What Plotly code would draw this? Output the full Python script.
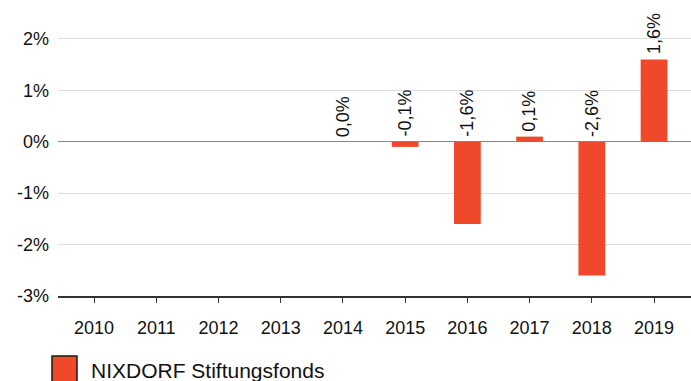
import plotly.graph_objects as go

# Annual performance per calendar year (percent)
years = ["2010", "2011", "2012", "2013", "2014", "2015", "2016", "2017", "2018", "2019"]
returns = [None, None, None, None, 0.0, -0.1, -1.6, 0.1, -2.6, 1.6]
series_name = "NIXDORF Stiftungsfonds"

y_ticks = [2, 1, 0, -1, -2, -3]
y_tick_text = ["2%", "1%", "0%", "-1%", "-2%", "-3%"]

BAR_COLOR = "#F0482A"
FONT = "Liberation Sans, Arial, sans-serif"

fig = go.Figure()
fig.add_trace(go.Bar(
    x=years,
    y=returns,
    marker=dict(color=BAR_COLOR, line=dict(width=0)),
    width=0.43,
    showlegend=False,
    hoverinfo="x+y",
))

# Rotated value labels, sitting above the bar top (or above zero for losses).
# On a category axis, annotation x is given as the category index.
for idx, v in enumerate(returns):
    if v is None:
        continue
    label = f"{v:.1f}".replace(".", ",") + "%"
    fig.add_annotation(
        x=idx, y=max(v, 0.0), xref="x", yref="y",
        text=label, textangle=-90, showarrow=False,
        xanchor="center", yanchor="bottom", yshift=3,
        font=dict(family=FONT, size=18, color="#111111"),
    )

# Legend: swatch and series name below the axis
plot_left, plot_w = 58, 633
plot_top, plot_bottom = 5, 296
plot_h = plot_bottom - plot_top

def px_x(px):
    return (px - plot_left) / plot_w

def px_y(py):
    return (plot_bottom - py) / plot_h

fig.add_shape(
    type="rect", xref="paper", yref="paper",
    x0=px_x(52), x1=px_x(77), y0=px_y(384), y1=px_y(356),
    fillcolor=BAR_COLOR, line=dict(color="#1A1A1A", width=1.5),
)
fig.add_annotation(
    x=px_x(89), y=px_y(370), xref="paper", yref="paper",
    text=series_name, showarrow=False, xanchor="left", yanchor="middle",
    font=dict(family=FONT, size=21, color="#111111"),
)

fig.update_layout(
    width=691, height=381,
    margin=dict(l=plot_left, r=691 - plot_left - plot_w, t=plot_top, b=381 - plot_bottom),
    paper_bgcolor="white", plot_bgcolor="white",
    font=dict(family=FONT, size=18, color="#111111"),
    bargap=0.5,
    xaxis=dict(
        type="category", range=[-0.579, 9.594],
        showgrid=False, zeroline=False,
        showline=True, linecolor="#333333", linewidth=1.5,
        ticks="outside", ticklen=5, tickcolor="#333333", tickwidth=1,
        ticklabelstandoff=10,
        tickfont=dict(family=FONT, size=18, color="#111111"),
        fixedrange=True,
    ),
    yaxis=dict(
        range=[-3, 2.66],
        tickvals=y_ticks, ticktext=y_tick_text,
        showgrid=True, gridcolor="#DDDDDD", gridwidth=1,
        zeroline=True, zerolinecolor="#888888", zerolinewidth=1.2,
        showline=False, ticks="",
        ticklabelstandoff=8,
        tickfont=dict(family=FONT, size=18, color="#111111"),
        fixedrange=True,
    ),
)

fig.write_html("out.html")
